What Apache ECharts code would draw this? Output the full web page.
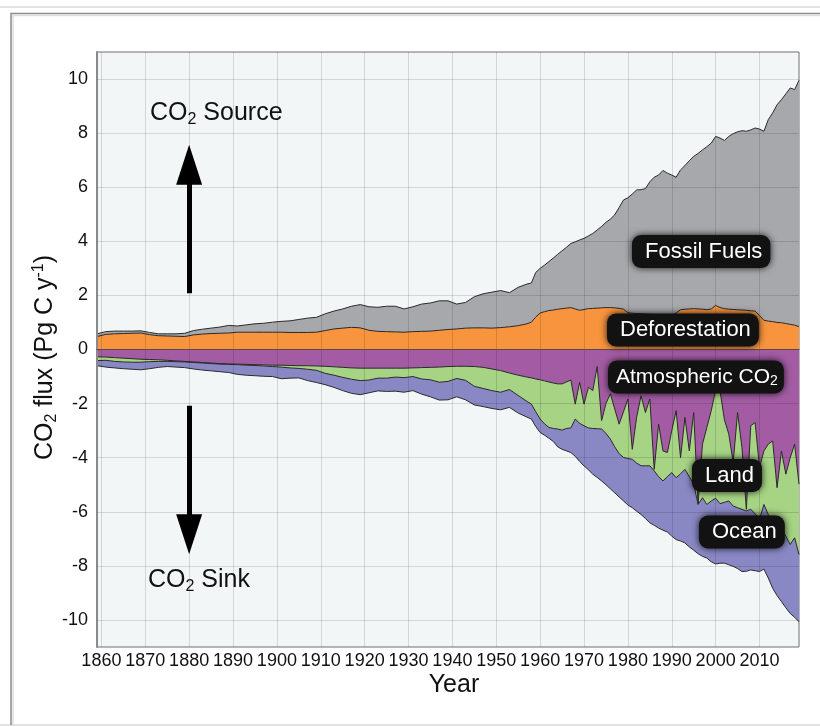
<!DOCTYPE html>
<html><head><meta charset="utf-8">
<script src="https://cdn.jsdelivr.net/npm/echarts@6/dist/echarts.min.js"></script>
<style>html,body{margin:0;padding:0;background:#fff}#c{width:820px;height:727px}</style>
</head><body><div id="c"></div>
<script>
// Years (every 2 years to 1957, yearly afterwards)
const years = [1859,1861,1863,1865,1867,1869,1871,1873,1875,1877,1879,1881,1883,1885,1887,1889,1891,1893,1895,1897,
1899,1901,1903,1905,1907,1909,1911,1913,1915,1917,1919,1921,1923,1925,1927,1929,1931,1933,1935,1937,
1939,1941,1943,1945,1947,1949,1951,1953,1955,1957,
1958,1959,1960,1961,1962,1963,1964,1965,1966,1967,1968,1969,1970,1971,1972,1973,1974,1975,1976,1977,
1978,1979,1980,1981,1982,1983,1984,1985,1986,1987,1988,1989,1990,1991,1992,1993,1994,1995,1996,1997,
1998,1999,2000,2001,2002,2003,2004,2005,2006,2007,2008,2009,2010,2011,2012,2013,2014,2015,2016,2017,2018,2019];

// Cumulative band edges (Pg C / yr)
// upper edge of Fossil Fuels (deforestation + fossil)
const fossilTopEdge = [0.58,0.66,0.68,0.68,0.68,0.69,0.63,0.58,0.58,0.58,0.60,0.70,0.75,0.79,0.83,0.89,0.87,0.91,0.95,0.97,
1.01,1.04,1.06,1.11,1.16,1.19,1.32,1.42,1.50,1.60,1.66,1.58,1.56,1.60,1.60,1.50,1.58,1.68,1.72,1.80,
1.80,1.68,1.74,1.95,2.06,2.12,2.18,2.10,2.30,2.42,
2.46,2.85,3.00,3.12,3.25,3.38,3.52,3.65,3.78,3.92,3.98,4.05,4.11,4.20,4.29,4.42,4.55,4.70,4.82,4.98,
5.25,5.53,5.61,5.75,5.90,5.91,5.95,6.20,6.37,6.45,6.62,6.52,6.45,6.37,6.64,6.80,6.98,7.14,7.25,7.38,
7.50,7.63,7.88,7.82,7.73,7.88,7.98,8.05,8.09,8.07,8.12,8.19,8.15,8.07,8.50,8.75,9.05,9.24,9.45,9.67,9.61,9.95];
// upper edge of Deforestation
const deforestTopEdge = [0.48,0.56,0.58,0.59,0.60,0.61,0.55,0.51,0.50,0.49,0.48,0.54,0.57,0.59,0.60,0.61,0.64,0.64,0.64,0.64,
0.64,0.64,0.63,0.63,0.63,0.64,0.70,0.76,0.79,0.82,0.80,0.71,0.67,0.66,0.65,0.64,0.66,0.67,0.68,0.71,
0.74,0.76,0.79,0.80,0.80,0.79,0.81,0.84,0.88,0.95,
1.01,1.20,1.35,1.40,1.44,1.46,1.49,1.51,1.53,1.55,1.50,1.45,1.48,1.51,1.52,1.53,1.54,1.55,1.55,1.54,
1.52,1.49,1.36,1.34,1.33,1.32,1.31,1.30,1.29,1.28,1.27,1.27,1.26,1.35,1.47,1.49,1.50,1.51,1.50,1.49,
1.47,1.50,1.63,1.55,1.51,1.49,1.48,1.47,1.46,1.45,1.43,1.42,1.25,1.08,1.05,1.03,1.00,0.99,0.96,0.93,0.90,0.85];
// lower edge of Atmospheric CO2
const atmosBottomEdge = [-0.27,-0.28,-0.30,-0.32,-0.34,-0.36,-0.37,-0.38,-0.40,-0.42,-0.44,-0.46,-0.48,-0.50,-0.52,-0.53,-0.54,-0.55,-0.56,-0.57,
-0.58,-0.58,-0.59,-0.60,-0.60,-0.61,-0.62,-0.64,-0.66,-0.68,-0.69,-0.69,-0.69,-0.69,-0.69,-0.69,-0.68,-0.67,-0.66,-0.65,
-0.63,-0.62,-0.62,-0.63,-0.66,-0.72,-0.78,-0.87,-0.95,-1.02,
-1.05,-1.09,-1.12,-1.16,-1.20,-1.24,-1.27,-1.27,-1.20,-1.13,-2.02,-1.21,-2.02,-1.40,-1.52,-0.63,-2.63,-2.00,-1.64,-2.20,
-2.76,-2.30,-1.83,-3.69,-2.50,-1.71,-2.33,-1.83,-4.43,-2.76,-3.75,-3.81,-3.00,-2.26,-4.00,-2.51,-3.75,-2.33,-5.70,-3.50,
-2.88,-2.26,-1.50,-1.52,-2.60,-3.13,-4.18,-2.33,-3.63,-5.91,-2.82,-2.70,-4.37,-3.75,-3.50,-3.38,-5.11,-3.75,-4.61,-4.00,-3.50,-4.98];
// lower edge of Land sink
const landBottomEdge = [-0.41,-0.40,-0.44,-0.46,-0.47,-0.47,-0.45,-0.44,-0.44,-0.45,-0.46,-0.48,-0.50,-0.52,-0.54,-0.55,-0.56,-0.58,-0.59,-0.61,
-0.63,-0.65,-0.68,-0.70,-0.73,-0.77,-0.88,-0.95,-1.03,-1.10,-1.15,-1.13,-1.06,-1.06,-1.02,-1.04,-1.00,-1.09,-1.12,-1.21,
-1.18,-1.07,-1.14,-1.36,-1.44,-1.52,-1.58,-1.48,-1.70,-1.92,
-2.02,-2.30,-2.57,-2.75,-2.88,-2.92,-2.94,-2.98,-2.92,-2.90,-2.57,-2.73,-2.82,-2.90,-2.92,-2.93,-2.94,-3.10,-3.31,-3.60,
-3.85,-3.99,-4.03,-4.06,-4.20,-4.30,-4.30,-4.30,-4.49,-4.70,-4.86,-4.70,-4.55,-4.74,-4.60,-4.43,-4.70,-4.98,-5.73,-5.48,
-5.73,-5.60,-5.50,-5.70,-5.65,-5.60,-5.79,-5.85,-5.91,-5.97,-5.91,-6.07,-6.28,-5.73,-6.10,-6.41,-6.55,-6.65,-6.90,-7.21,-6.96,-7.58];
// lower edge of Ocean sink
const oceanBottomEdge = [-0.60,-0.65,-0.68,-0.71,-0.73,-0.75,-0.71,-0.66,-0.63,-0.65,-0.67,-0.72,-0.76,-0.79,-0.82,-0.85,-0.92,-0.95,-0.97,-0.99,
-1.00,-1.08,-1.06,-1.05,-1.15,-1.22,-1.30,-1.40,-1.52,-1.62,-1.67,-1.60,-1.53,-1.55,-1.54,-1.58,-1.52,-1.65,-1.75,-1.87,
-1.86,-1.75,-1.86,-2.05,-2.11,-2.18,-2.23,-2.14,-2.35,-2.50,
-2.57,-2.85,-3.07,-3.17,-3.28,-3.40,-3.60,-3.69,-3.75,-3.81,-3.95,-4.14,-4.30,-4.45,-4.61,-4.73,-4.86,-5.00,-5.15,-5.30,
-5.45,-5.60,-5.75,-5.85,-5.98,-6.10,-6.25,-6.41,-6.50,-6.60,-6.68,-6.75,-6.90,-7.03,-7.08,-7.15,-7.30,-7.42,-7.55,-7.65,
-7.71,-7.85,-7.93,-7.90,-7.90,-7.96,-8.02,-8.10,-8.21,-8.20,-8.15,-8.18,-8.21,-8.12,-8.45,-8.83,-9.10,-9.32,-9.55,-9.76,-9.90,-10.07];

const xTickValues = [1860,1870,1880,1890,1900,1910,1920,1930,1940,1950,1960,1970,1980,1990,2000,2010];
const yTickValues = [-10,-8,-6,-4,-2,0,2,4,6,8,10];

function hasFont(f) {
  const c = document.createElement('canvas').getContext('2d');
  c.font = '40px monospace'; const w1 = c.measureText('1870 Wide Year').width;
  c.font = "40px '" + f + "', monospace"; const w2 = c.measureText('1870 Wide Year').width;
  return Math.abs(w1 - w2) > 0.5;
}
const SANS = "'Liberation Sans', Arial, sans-serif";
const narrowOK = hasFont('Liberation Sans Narrow');
const TICK_FONT = narrowOK ? "'Liberation Sans Narrow', 'Liberation Sans', Arial, sans-serif" : SANS;
const TICK_SIZE = narrowOK ? 20 : 18;

// Bands are painted back to front: each edge fills towards zero, later bands cover earlier ones.
function band(name, vals, color, extra) {
  return Object.assign({
    name, type: 'line',
    data: years.map((y, i) => [y, vals[i]]),
    symbol: 'none', showSymbol: false, silent: true,
    lineStyle: { color: '#2a2a2a', width: 1 },
    areaStyle: { color, opacity: 1, origin: 0 },
    z: 2
  }, extra || {});
}

const chart = echarts.init(document.getElementById('c'), null, { renderer: 'canvas' });

const boxStyle = {
  fill: '#ffffff', font: '22px ' + SANS, lineHeight: 23,
  backgroundColor: '#121212', borderRadius: 9,
  padding: [5, 8, 5, 13],
  shadowBlur: 7, shadowColor: 'rgba(0,0,0,0.85)',
  verticalAlign: 'middle', align: 'left'
};
function box(text, x, y, extra) {
  return { type: 'text', x, y, z: 100, silent: true,
    style: Object.assign({}, boxStyle, { text }, extra || {}) };
}
const subRich = {
  a: { fontSize: 21, fontFamily: SANS, lineHeight: 23, fill: '#fff' },
  s: { fontSize: 14, fontFamily: SANS, lineHeight: 8, verticalAlign: 'bottom', fill: '#fff' }
};
const darkRich = {
  a: { fontSize: 25, fontFamily: SANS, lineHeight: 29, fill: '#111' },
  s: { fontSize: 16, fontFamily: SANS, lineHeight: 11, verticalAlign: 'bottom', fill: '#111' }
};
const GRID = 'rgba(0,0,0,0.13)';

chart.setOption({
  animation: false,
  backgroundColor: '#ffffff',
  grid: { left: 97, right: 21, top: 52, bottom: 80, show: true,
    backgroundColor: '#f3f6f7', borderColor: '#6e6e6e', borderWidth: 1 },
  xAxis: {
    type: 'value', min: 1859, max: 2019, z: 3,
    name: 'Year', nameLocation: 'middle', nameGap: 26, nameMoveOverlap: false,
    nameTextStyle: { fontSize: 25, fontFamily: SANS, color: '#111', padding: [0, 0, 0, 12] },
    axisLine: { show: true, lineStyle: { color: '#333', width: 1 } },
    axisTick: { show: false, customValues: xTickValues },
    axisLabel: { customValues: xTickValues, formatter: v => String(v), fontSize: TICK_SIZE, fontFamily: TICK_FONT, color: '#111', margin: 5, hideOverlap: false, showMinLabel: true, showMaxLabel: true },
    splitLine: { show: false }
  },
  yAxis: {
    type: 'value', min: -11, max: 11, z: 3,
    name: '{a|CO}{s|2}{a| flux (Pg C y}{p|-1}{a|)}',
    nameLocation: 'middle', nameGap: 37, nameRotate: 90, nameMoveOverlap: false,
    nameTextStyle: {
      color: '#111', padding: [0, 16, 0, 0],
      rich: {
        a: { fontSize: 25, fontFamily: SANS, lineHeight: 29, color: '#111' },
        s: { fontSize: 16, fontFamily: SANS, lineHeight: 11, verticalAlign: 'bottom', color: '#111' },
        p: { fontSize: 16, fontFamily: SANS, lineHeight: 13, verticalAlign: 'top', color: '#111' }
      }
    },
    axisLine: { show: true, lineStyle: { color: '#8a8a8a', width: 2 } },
    axisTick: { show: false, customValues: yTickValues },
    axisLabel: { customValues: yTickValues, formatter: v => String(v), fontSize: TICK_SIZE, fontFamily: TICK_FONT, color: '#111', margin: 9 },
    splitLine: { show: false }
  },
  series: [
    band('Fossil Fuels', fossilTopEdge, '#a7a8ac'),
    band('Deforestation', deforestTopEdge, '#f7943d'),
    band('Ocean', oceanBottomEdge, '#8a88c4'),
    band('Land', landBottomEdge, '#a6d384'),
    band('Atmospheric CO2', atmosBottomEdge, '#a35ca3', {
      markLine: {
        silent: true, symbol: ['none', 'none'], animation: false,
        label: { show: false },
        lineStyle: { color: GRID, width: 1, type: 'solid' },
        data: yTickValues.filter(v => v !== 0).map(v => ({ yAxis: v }))
          .concat(xTickValues.map(v => ({ xAxis: v })))
          .concat([{ yAxis: 0, lineStyle: { color: '#5a4a4a', width: 1.2 } }])
      }
    }),
    {
      type: 'line', name: 'arrows', data: [], silent: true,
      markLine: {
        silent: true, symbol: ['none', 'triangle'], symbolSize: [26, 40], animation: false,
        lineStyle: { color: '#000', width: 5, type: 'solid' }, label: { show: false },
        data: [
          [{ coord: [1880, 2.08] }, { coord: [1880, 6.83] }],
          [{ coord: [1880, -2.08] }, { coord: [1880, -6.83] }]
        ]
      }
    }
  ],
  graphic: [
    { type: 'line', silent: true, shape: { x1: 0, y1: 7, x2: 820, y2: 7 }, style: { stroke: '#e2e2e2', lineWidth: 2 } },
    { type: 'line', silent: true, shape: { x1: 0, y1: 725, x2: 820, y2: 725 }, style: { stroke: '#e2e2e2', lineWidth: 2 } },
    { type: 'polyline', silent: true, shape: { points: [[11, 725], [11, 13.5], [820, 13.5]] }, style: { stroke: '#8c8c8c', lineWidth: 1.5, fill: null } },
    { type: 'polyline', silent: true, shape: { points: [[13, 725], [13, 15.5], [820, 15.5]] }, style: { stroke: '#dedede', lineWidth: 1.5, fill: null } },
    { type: 'text', x: 150, y: 113, z: 100, silent: true,
      style: { text: '{a|CO}{s|2}{a| Source}', rich: darkRich, verticalAlign: 'middle', align: 'left' } },
    { type: 'text', x: 148, y: 580, z: 100, silent: true,
      style: { text: '{a|CO}{s|2}{a| Sink}', rich: darkRich, verticalAlign: 'middle', align: 'left' } },
    box('Fossil Fuels', 632, 251.5),
    box('Deforestation', 607, 330),
    box('{a|Atmospheric CO}{s|2}', 608, 377, { rich: subRich, padding: [5, 6, 5, 8] }),
    box('Land', 692, 475.5),
    box('Ocean', 699, 532)
  ]
});
</script>
</body></html>
